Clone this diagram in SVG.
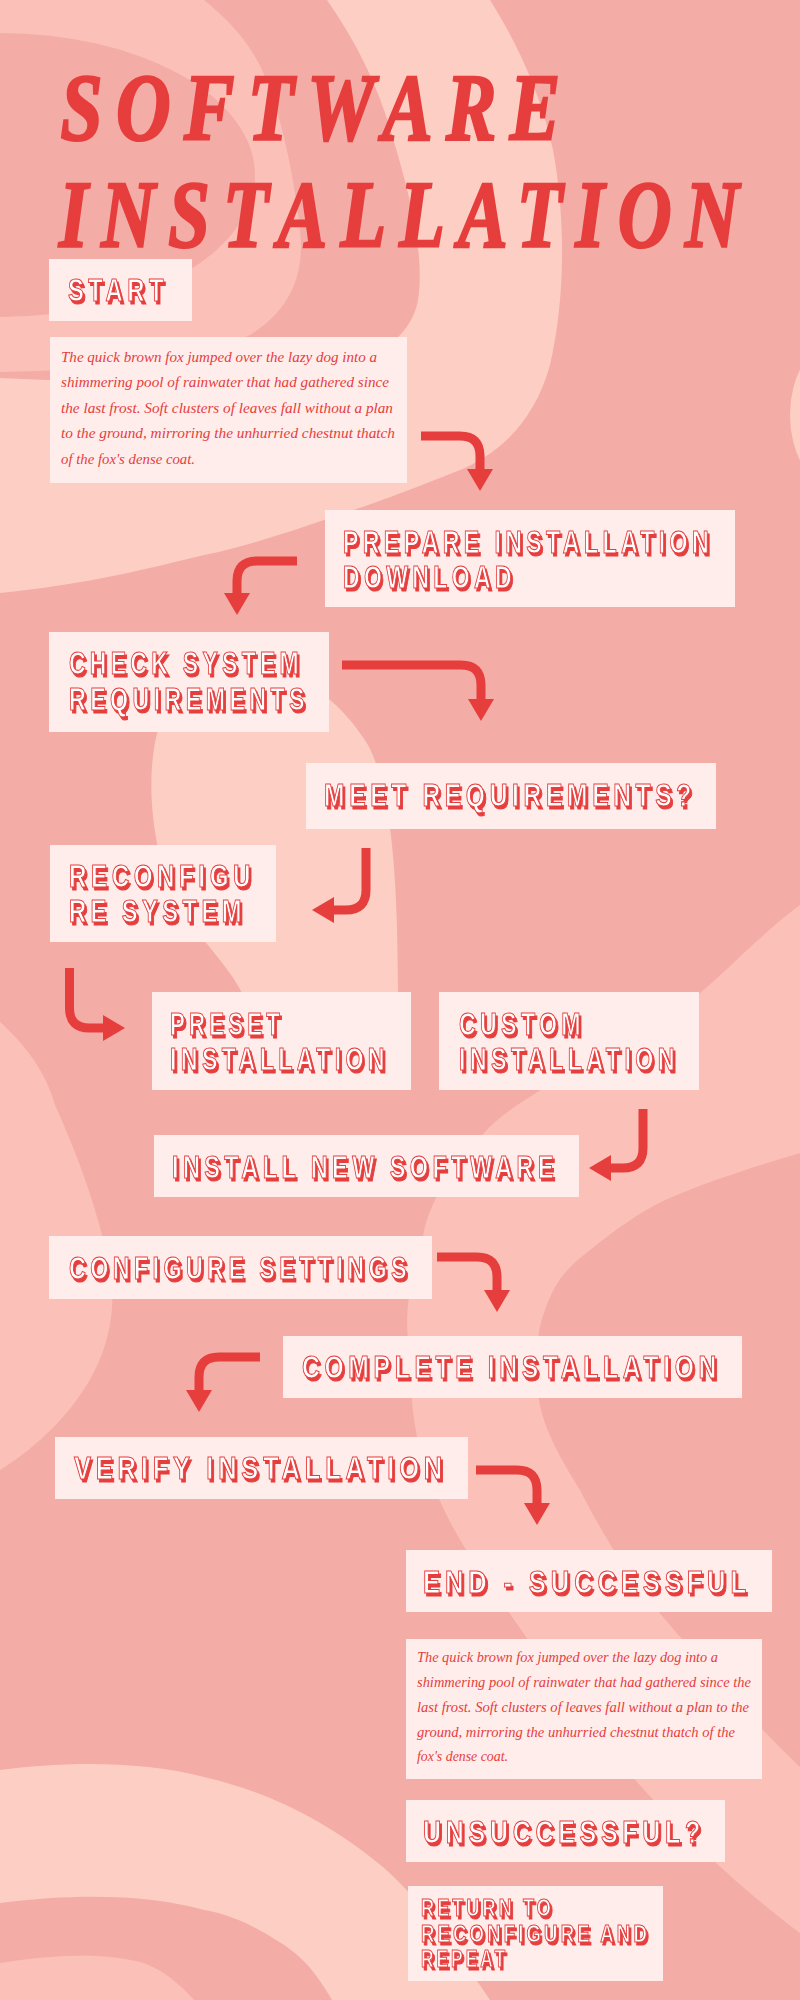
<svg xmlns="http://www.w3.org/2000/svg" width="800" height="2000" viewBox="0 0 800 2000">
<defs>
<style>
.box{fill:#feedeb}
.lbl{font-family:"Liberation Sans",Arial,sans-serif;font-weight:bold;font-size:32px;fill:#ffffff;stroke:#e63d3d;stroke-width:1.1;letter-spacing:6px;filter:url(#sh)}
.sm{font-size:24px;letter-spacing:4px}
.para{font-family:"Liberation Serif","Times New Roman",serif;font-style:italic;font-size:15px;fill:#e63d3d}
.title{font-family:"Liberation Serif","Times New Roman",serif;font-style:italic;font-weight:bold;font-size:96px;fill:#e63d3d;stroke:#e63d3d;stroke-width:2.5;letter-spacing:17px}
.arr{fill:none;stroke:#e63d3d;stroke-width:9;marker-end:url(#ah)}
.bgA{fill:#fbc1b9}
.bgC{fill:#fdcec4}
.bgS{fill:#f4aca7}
</style>
<filter id="sh" x="-10%" y="-20%" width="130%" height="160%">
<feOffset in="SourceAlpha" dx="3.3" dy="2.5" result="o"/>
<feFlood flood-color="#e63d3d" result="f"/>
<feComposite in="f" in2="o" operator="in" result="s"/>
<feMerge><feMergeNode in="s"/><feMergeNode in="SourceGraphic"/></feMerge>
</filter>
<marker id="ah" markerUnits="userSpaceOnUse" markerWidth="22" markerHeight="26" viewBox="0 0 22 26" refX="1" refY="13" orient="auto">
<path d="M0,0 L22,13 L0,26 Z" fill="#e63d3d"/>
</marker>
</defs>

<g id="background">
<rect x="0" y="0" width="800" height="2000" fill="#f4aca7"/>
<path class="bgC" d="M0,0 L490,0 C515,40 540,90 553,150 C566,220 565,300 550,365 C535,420 500,455 455,472 C410,490 370,505 327,519 C280,535 240,548 204,555 C150,568 90,584 0,593 Z"/>
<path class="bgS" d="M0,0 L327,0 C355,40 378,85 392,135 C410,195 425,255 418,300 C410,345 360,368 300,376 C200,388 100,382 0,378 Z"/>
<path class="bgA" d="M0,0 L204,0 C228,20 248,40 262,70 C280,110 293,170 300,230 C305,275 290,310 250,335 C190,362 100,370 0,372 Z"/>
<ellipse class="bgS" cx="0" cy="175" rx="255" ry="142"/>
<ellipse class="bgC" cx="832" cy="415" rx="42" ry="70"/>
<path class="bgC" d="M240,668 C300,668 340,700 368,745 C392,790 398,880 398,1000 C398,1040 392,1070 340,1082 L285,1082 C258,1072 248,1040 245,1000 C230,960 178,925 162,865 C146,805 148,740 168,705 C183,682 210,668 240,668 Z"/>
<path class="bgA" d="M0,1022 C25,1045 45,1070 55,1105 C75,1150 95,1200 108,1260 C118,1300 110,1340 95,1370 C75,1410 40,1445 0,1470 Z"/>
<path class="bgA" d="M800,905 C760,935 730,968 699,994 C660,1020 620,1040 587,1063 C540,1090 505,1110 485,1132 C450,1170 430,1200 423,1236 C410,1280 405,1310 408,1339 C410,1380 412,1420 420,1450 C430,1480 450,1530 480,1570 C515,1620 580,1720 638,1783 C680,1830 730,1880 800,1933 L800,1767 C750,1720 700,1660 663,1617 C630,1580 600,1530 580,1490 C555,1450 540,1420 538,1391 C536,1350 537,1330 545,1310 C555,1280 570,1265 590,1250 C615,1230 640,1212 663,1201 C710,1180 760,1165 800,1153 Z"/>
<path class="bgC" d="M0,1770 C60,1762 140,1760 204,1777 C260,1790 320,1815 383,1867 C420,1900 450,1940 490,2000 L332,2000 C315,1970 300,1955 281,1943 C250,1922 220,1912 204,1910 C150,1895 80,1893 0,1903 Z"/>
<path class="bgA" d="M0,1963 C50,1955 100,1952 140,1962 C165,1970 180,1985 194,2000 L0,2000 Z"/>
</g>

<g id="title">
<text class="title" transform="matrix(0.6 0 0 1 24 0)"><tspan x="61" y="140" textLength="855" lengthAdjust="spacingAndGlyphs">SOFTWARE</tspan><tspan x="58.3" y="247" textLength="1155" lengthAdjust="spacingAndGlyphs">INSTALLATION</tspan></text>
</g>

<g id="connectors">
<path class="arr" d="M421,436 H460 Q480,436 480,456 V470"/>
<path class="arr" d="M297,561 H257 Q237,561 237,581 V594"/>
<path class="arr" d="M342,665 H461 Q481,665 481,685 V700"/>
<path class="arr" d="M366,848 V890 Q366,910 346,910 H333"/>
<path class="arr" d="M69.5,968 V1008 Q69.5,1028 89.5,1028 H104"/>
<path class="arr" d="M643,1109 V1148 Q643,1168 623,1168 H610"/>
<path class="arr" d="M437,1257 H477 Q497,1257 497,1277 V1291"/>
<path class="arr" d="M260,1357 H219 Q199,1357 199,1377 V1391"/>
<path class="arr" d="M476,1470 H517 Q537,1470 537,1490 V1504"/>
</g>

<g id="start">
<rect class="box" x="49" y="259" width="143" height="62"/>
<text class="lbl" transform="matrix(0.75 0 0 1 17 0)" x="68" y="301" textLength="133.3" lengthAdjust="spacingAndGlyphs">START</text>
</g>

<g id="intro-text">
<rect class="box" x="50" y="337" width="357" height="146"/>
<text class="para" x="61" y="362" textLength="316" lengthAdjust="spacingAndGlyphs">The quick brown fox jumped over the lazy dog into a</text>
<text class="para" x="61" y="387" textLength="328" lengthAdjust="spacingAndGlyphs">shimmering pool of rainwater that had gathered since</text>
<text class="para" x="61" y="413" textLength="332" lengthAdjust="spacingAndGlyphs">the last frost. Soft clusters of leaves fall without a plan</text>
<text class="para" x="61" y="438" textLength="334" lengthAdjust="spacingAndGlyphs">to the ground, mirroring the unhurried chestnut thatch</text>
<text class="para" x="61" y="464" textLength="134" lengthAdjust="spacingAndGlyphs">of the fox's dense coat.</text>
</g>

<g id="prepare">
<rect class="box" x="325" y="510" width="410" height="97"/>
<text class="lbl" transform="matrix(0.75 0 0 1 85.75 0)" x="343" y="553" textLength="493.3" lengthAdjust="spacingAndGlyphs">PREPARE INSTALLATION</text>
<text class="lbl" transform="matrix(0.75 0 0 1 85.75 0)" x="343" y="588" textLength="230.7" lengthAdjust="spacingAndGlyphs">DOWNLOAD</text>
</g>

<g id="check">
<rect class="box" x="49" y="632" width="280" height="100"/>
<text class="lbl" transform="matrix(0.75 0 0 1 17.25 0)" x="69" y="674" textLength="312" lengthAdjust="spacingAndGlyphs">CHECK SYSTEM</text>
<text class="lbl" transform="matrix(0.75 0 0 1 17.25 0)" x="69" y="710" textLength="320" lengthAdjust="spacingAndGlyphs">REQUIREMENTS</text>
</g>

<g id="meet">
<rect class="box" x="306" y="763" width="410" height="66"/>
<text class="lbl" transform="matrix(0.75 0 0 1 81 0)" x="324" y="806" textLength="496" lengthAdjust="spacingAndGlyphs">MEET REQUIREMENTS?</text>
</g>

<g id="reconfigure">
<rect class="box" x="50" y="845" width="226" height="97"/>
<text class="lbl" transform="matrix(0.75 0 0 1 17.25 0)" x="69" y="887" textLength="248" lengthAdjust="spacingAndGlyphs">RECONFIGU</text>
<text class="lbl" transform="matrix(0.75 0 0 1 17.25 0)" x="69" y="922" textLength="236" lengthAdjust="spacingAndGlyphs">RE SYSTEM</text>
</g>

<g id="preset">
<rect class="box" x="152" y="992" width="259" height="98"/>
<text class="lbl" transform="matrix(0.75 0 0 1 42.5 0)" x="170" y="1035" textLength="152" lengthAdjust="spacingAndGlyphs">PRESET</text>
<text class="lbl" transform="matrix(0.75 0 0 1 42.5 0)" x="170" y="1070" textLength="292" lengthAdjust="spacingAndGlyphs">INSTALLATION</text>
</g>

<g id="custom">
<rect class="box" x="439" y="992" width="260" height="98"/>
<text class="lbl" transform="matrix(0.75 0 0 1 114.75 0)" x="459" y="1035" textLength="168" lengthAdjust="spacingAndGlyphs">CUSTOM</text>
<text class="lbl" transform="matrix(0.75 0 0 1 114.75 0)" x="459" y="1070" textLength="293.3" lengthAdjust="spacingAndGlyphs">INSTALLATION</text>
</g>

<g id="install">
<rect class="box" x="154" y="1135" width="425" height="62"/>
<text class="lbl" transform="matrix(0.75 0 0 1 43 0)" x="172" y="1178" textLength="514.7" lengthAdjust="spacingAndGlyphs">INSTALL NEW SOFTWARE</text>
</g>

<g id="configure">
<rect class="box" x="49" y="1236" width="383" height="63"/>
<text class="lbl" transform="matrix(0.75 0 0 1 17.25 0)" x="69" y="1279" textLength="456" lengthAdjust="spacingAndGlyphs">CONFIGURE SETTINGS</text>
</g>

<g id="complete">
<rect class="box" x="283" y="1336" width="459" height="62"/>
<text class="lbl" transform="matrix(0.75 0 0 1 75.5 0)" x="302" y="1378" textLength="558.7" lengthAdjust="spacingAndGlyphs">COMPLETE INSTALLATION</text>
</g>

<g id="verify">
<rect class="box" x="55" y="1437" width="413" height="62"/>
<text class="lbl" transform="matrix(0.75 0 0 1 18.5 0)" x="74" y="1479" textLength="497.3" lengthAdjust="spacingAndGlyphs">VERIFY INSTALLATION</text>
</g>

<g id="end">
<rect class="box" x="406" y="1550" width="366" height="62"/>
<text class="lbl" transform="matrix(0.75 0 0 1 105.75 0)" x="423" y="1593" textLength="437.3" lengthAdjust="spacingAndGlyphs">END - SUCCESSFUL</text>
</g>

<g id="end-text">
<rect class="box" x="406" y="1639" width="356" height="140"/>
<text class="para" x="417" y="1662" textLength="301" lengthAdjust="spacingAndGlyphs">The quick brown fox jumped over the lazy dog into a</text>
<text class="para" x="417" y="1687" textLength="334" lengthAdjust="spacingAndGlyphs">shimmering pool of rainwater that had gathered since the</text>
<text class="para" x="417" y="1712" textLength="332" lengthAdjust="spacingAndGlyphs">last frost. Soft clusters of leaves fall without a plan to the</text>
<text class="para" x="417" y="1737" textLength="318" lengthAdjust="spacingAndGlyphs">ground, mirroring the unhurried chestnut thatch of the</text>
<text class="para" x="417" y="1761" textLength="91" lengthAdjust="spacingAndGlyphs">fox's dense coat.</text>
</g>

<g id="unsuccessful">
<rect class="box" x="406" y="1800" width="319" height="62"/>
<text class="lbl" transform="matrix(0.75 0 0 1 105.75 0)" x="423" y="1843" textLength="376" lengthAdjust="spacingAndGlyphs">UNSUCCESSFUL?</text>
</g>

<g id="return">
<rect class="box" x="408" y="1886" width="255" height="95"/>
<text class="lbl sm" transform="matrix(0.75 0 0 1 105.25 0)" x="421" y="1916" textLength="177.3" lengthAdjust="spacingAndGlyphs">RETURN TO</text>
<text class="lbl sm" transform="matrix(0.75 0 0 1 105.25 0)" x="421" y="1942" textLength="305.3" lengthAdjust="spacingAndGlyphs">RECONFIGURE AND</text>
<text class="lbl sm" transform="matrix(0.75 0 0 1 105.25 0)" x="421" y="1967" textLength="116" lengthAdjust="spacingAndGlyphs">REPEAT</text>
</g>
</svg>
